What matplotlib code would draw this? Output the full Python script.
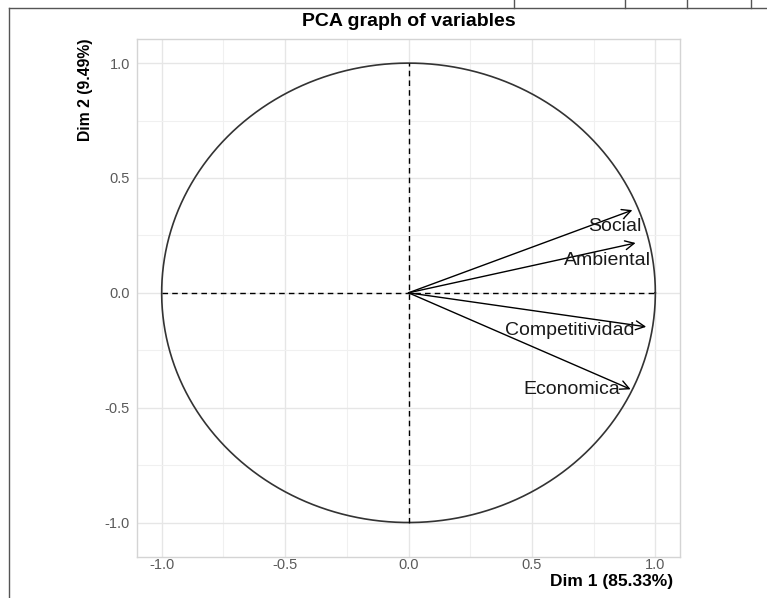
import matplotlib
matplotlib.use("Agg")
import matplotlib.pyplot as plt
import numpy as np
from matplotlib.lines import Line2D

plt.rcParams['font.family'] = ['Liberation Sans', 'DejaVu Sans']

variables = ["Social", "Ambiental", "Competitividad", "Economica"]
dim1 = [0.907, 0.920, 0.963, 0.900]
dim2 = [0.360, 0.217, -0.148, -0.420]
label_x = [0.835, 0.806, 0.653, 0.661]
label_y = [0.290, 0.140, -0.163, -0.422]
ticks = [-1.0, -0.5, 0.0, 0.5, 1.0]
tick_labels = ["-1.0", "-0.5", "0.0", "0.5", "1.0"]

fig = plt.figure(figsize=(7.67, 5.98), dpi=100)
ax = fig.add_axes([0.1786, 0.0686, 0.708, 0.8662])

ax.set_xlim(-1.1, 1.1)
ax.set_ylim(-1.15, 1.105)

# grid
minor = [-0.75, -0.25, 0.25, 0.75]
ax.set_xticks(ticks)
ax.set_xticklabels(tick_labels)
ax.set_yticks(ticks)
ax.set_yticklabels(tick_labels)
ax.set_xticks(minor, minor=True)
ax.set_yticks(minor, minor=True)
ax.grid(True, which='major', color='#e6e6e6', lw=1.0)
ax.grid(True, which='minor', color='#f0f0f0', lw=0.8)
ax.set_axisbelow(True)
ax.tick_params(which='both', length=0)
ax.tick_params(axis='both', colors='#5a5a5a', labelsize=10.5)
ax.tick_params(axis='x', pad=1)
ax.tick_params(axis='y', pad=5)
for s in ax.spines.values():
    s.set_color('#d4d4d4')
    s.set_linewidth(1.0)

# circle
t = np.linspace(0, 2 * np.pi, 400)
ax.plot(np.cos(t), np.sin(t), color='#333333', lw=1.2)

# dashed axes
ax.plot([-1, 1], [0, 0], color='black', lw=1.0, ls=(0, (4, 3)))
ax.plot([0, 0], [-1, 1], color='black', lw=1.0, ls=(0, (4, 3)))

# arrows
for v, x, y, lx, ly in zip(variables, dim1, dim2, label_x, label_y):
    ax.annotate("", xy=(x, y), xytext=(0, 0),
                arrowprops=dict(arrowstyle="->", color='black', lw=1.0,
                                mutation_scale=16, shrinkA=0, shrinkB=0))
    ax.text(lx, ly, v, ha='center', va='center', fontsize=14, color='#1a1a1a')

ax.set_title("PCA graph of variables", fontsize=14, fontweight='bold', pad=9)
ax.set_xlabel("Dim 1 (85.33%)", fontsize=12.5, fontweight='bold')
ax.xaxis.set_label_coords(0.987, -0.033)
ax.xaxis.label.set_ha('right')
ax.xaxis.label.set_va('top')
ax.set_ylabel("Dim 2 (9.49%)", fontsize=11.3, fontweight='bold')
ax.yaxis.set_label_coords(-0.095, 1.0)
ax.yaxis.label.set_ha('right')
ax.yaxis.label.set_va('center')

# screenshot frame
fig.add_artist(Line2D([9 / 767, 1], [1 - 8 / 598, 1 - 8 / 598], transform=fig.transFigure, color='#555555', lw=1.0))
fig.add_artist(Line2D([9 / 767, 9 / 767], [0, 1 - 8 / 598], transform=fig.transFigure, color='#555555', lw=1.0))
for px in [514, 625, 687, 751]:
    fig.add_artist(Line2D([px / 767, px / 767], [1 - 8 / 598, 1], transform=fig.transFigure, color='#555555', lw=1.0))

fig.savefig("out.png", dpi=100)
